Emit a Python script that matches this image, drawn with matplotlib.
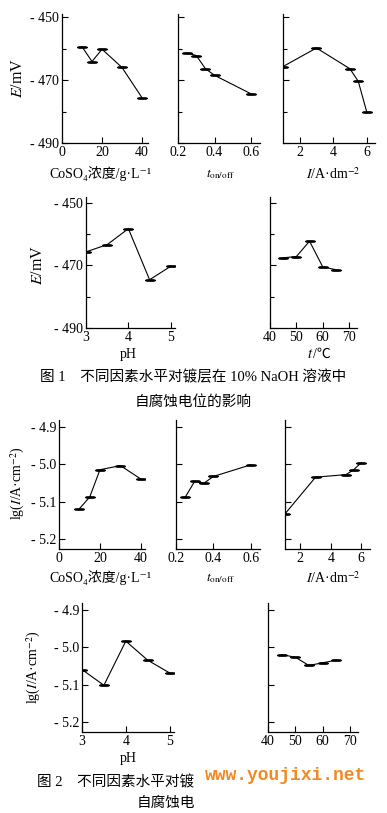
import matplotlib
matplotlib.use('Agg')
import matplotlib.pyplot as plt
from matplotlib.path import Path
from matplotlib.transforms import Affine2D
from matplotlib.ticker import FixedLocator

plt.rcParams['font.family'] = ['Liberation Serif', 'DejaVu Serif', 'Noto Sans CJK SC']
plt.rcParams['mathtext.fontset'] = 'stix'

# ---- data: Fig 1 (E / mV) ----
coso4 = [10, 15, 20, 30, 40]
e_coso4 = [-459.4, -464.1, -460.2, -466.0, -475.6]
ton = [0.25, 0.3, 0.35, 0.4, 0.6]
e_ton = [-461.4, -462.2, -466.4, -468.5, -474.4]
cur = [1, 3, 5, 5.5, 6]
e_cur = [-465.7, -459.8, -466.4, -470.4, -480.0]
ph = [3, 3.5, 4, 4.5, 5]
e_ph = [-465.7, -463.4, -458.3, -474.6, -470.3]
temp = [45, 50, 55, 60, 65]
e_temp = [-467.6, -467.2, -462.3, -470.5, -471.4]

# ---- data: Fig 2 (lg I) ----
lg_coso4 = [-5.119, -5.088, -5.015, -5.004, -5.040]
lg_ton = [-5.088, -5.046, -5.051, -5.033, -5.002]
lg_cur = [-5.133, -5.035, -5.028, -5.015, -4.996]
lg_ph = [-5.060, -5.102, -4.984, -5.035, -5.069]
lg_temp = [-5.020, -5.027, -5.049, -5.042, -5.035]

W, H = 387, 813
fig = plt.figure(figsize=(W / 100, H / 100), dpi=100)

lens = Path.unit_circle().transformed(Affine2D().scale(1, 0.22))


def px_axes(x0, x1, ytop, ybot):
    return fig.add_axes([x0 / W, 1 - ybot / H, (x1 - x0) / W, (ybot - ytop) / H])


def panel(ax, x, y, xlim, xt, ylim, yt, ymin, ylab):
    ax.plot(x, y, color='black', lw=0.8, marker=lens, ms=7.5, mfc='black', mec='black', mew=0.5)
    ax.set_xlim(*xlim)
    ax.set_ylim(*ylim)
    ax.set_xticks(xt)
    ax.set_xticklabels([f'{v:g}' for v in xt])
    ax.set_yticks(yt)
    ax.yaxis.set_minor_locator(FixedLocator(ymin))
    if ylab:
        ax.set_yticklabels(ylab)
    else:
        ax.set_yticklabels([])
    for s in ['top', 'right']:
        ax.spines[s].set_visible(False)
    for s in ['left', 'bottom']:
        ax.spines[s].set_linewidth(0.9)
    ax.tick_params(which='both', direction='in', width=0.8, labelsize=10, pad=2)
    ax.tick_params(which='major', length=4)
    ax.tick_params(which='minor', length=3)


def t_label(xc, yc):
    # italic t followed by /℃
    fig.text(xc / W, 1 - yc / H, '$t$', ha='right', va='center', fontsize=10.5)
    fig.text(xc / W, 1 - yc / H, '/℃', ha='left', va='center', fontsize=10,
             family=['Liberation Serif', 'Noto Sans CJK SC'])


e_ticks = [-490, -470, -450]
e_minor = [-480, -460]
e_labels = ['- 490', '- 470', '- 450']
lg_ticks = [-5.2, -5.1, -5.0, -4.9]
lg_labels = ['- 5.2', '- 5.1', '- 5.0', '- 4.9']

# Fig 1, top row
ax = px_axes(62, 148, 14, 143)
panel(ax, coso4, e_coso4, (0, 43), [0, 20, 40], (-490, -449), e_ticks, e_minor, e_labels)
ax = px_axes(178, 260, 14, 143)
panel(ax, ton, e_ton, (0.2, 0.648), [0.2, 0.4, 0.6], (-490, -449), e_ticks, e_minor, None)
ax = px_axes(283, 375, 14, 143)
panel(ax, cur, e_cur, (1, 6.5), [2, 4, 6], (-490, -449), e_ticks, e_minor, None)

fig.text(18 / W, 1 - 78 / H, '$E$/mV', rotation=90, ha='center', va='center', fontsize=11.5)
fig.text(100 / W, 1 - 174 / H, 'CoSO₄浓度/g·L⁻¹', ha='center', va='center', fontsize=10)
fig.text(220 / W, 1 - 174 / H, r'$t_{\rm on/off}$', ha='center', va='center', fontsize=9.5)
fig.text(333 / W, 1 - 174 / H, '$I$/A·dm$^{-2}$', ha='center', va='center', fontsize=10)

# Fig 1, bottom row
ax = px_axes(86, 175, 197, 328)
panel(ax, ph, e_ph, (3, 5.1), [3, 4, 5], (-490, -448.2), e_ticks, e_minor, e_labels)
ax = px_axes(270, 357, 197, 328)
panel(ax, temp, e_temp, (40, 73), [40, 50, 60, 70], (-490, -448.2), e_ticks, e_minor, None)

fig.text(38 / W, 1 - 265 / H, '$E$/mV', rotation=90, ha='center', va='center', fontsize=11.5)
fig.text(128 / W, 1 - 354 / H, 'pH', ha='center', va='center', fontsize=10)
t_label(313, 354)

fig.text(193 / W, 1 - 377 / H, '图 1　不同因素水平对镀层在 10% NaOH 溶液中',
         ha='center', va='center', fontsize=10.5)
fig.text(193 / W, 1 - 402 / H, '自腐蚀电位的影响', ha='center', va='center', fontsize=10.5)

# Fig 2, top row
ax = px_axes(59, 145, 420, 549)
panel(ax, coso4, lg_coso4, (0, 42), [0, 20, 40], (-5.227, -4.882), lg_ticks, [], lg_labels)
ax = px_axes(176, 260, 420, 549)
panel(ax, ton, lg_ton, (0.2, 0.65), [0.2, 0.4, 0.6], (-5.227, -4.882), lg_ticks, [], None)
ax = px_axes(285, 370, 420, 549)
panel(ax, cur, lg_cur, (1, 6.57), [2, 4, 6], (-5.227, -4.882), lg_ticks, [], None)

fig.text(18 / W, 1 - 483 / H, 'lg($I$/A·cm$^{-2}$)', rotation=90, ha='center', va='center', fontsize=10)
fig.text(100 / W, 1 - 578 / H, 'CoSO₄浓度/g·L⁻¹', ha='center', va='center', fontsize=10)
fig.text(220 / W, 1 - 578 / H, r'$t_{\rm on/off}$', ha='center', va='center', fontsize=9.5)
fig.text(333 / W, 1 - 578 / H, '$I$/A·dm$^{-2}$', ha='center', va='center', fontsize=10)

# Fig 2, bottom row
ax = px_axes(82, 174, 603, 732)
panel(ax, ph, lg_ph, (3, 5.1), [3, 4, 5], (-5.227, -4.882), lg_ticks, [], lg_labels)
ax = px_axes(268, 358, 603, 732)
panel(ax, temp, lg_temp, (40, 73), [40, 50, 60, 70], (-5.227, -4.882), lg_ticks, [], None)

fig.text(34 / W, 1 - 667 / H, 'lg($I$/A·cm$^{-2}$)', rotation=90, ha='center', va='center', fontsize=10)
fig.text(128 / W, 1 - 758 / H, 'pH', ha='center', va='center', fontsize=10)

fig.text(37 / W, 1 - 782 / H, '图 2　不同因素水平对镀', ha='left', va='center', fontsize=10.5)
fig.text(137 / W, 1 - 803 / H, '自腐蚀电', ha='left', va='center', fontsize=10.5)
fig.text(205 / W, 1 - 775 / H, 'www.youjixi.net', ha='left', va='center', fontsize=13,
         family='Liberation Mono', weight='bold', color='#f08a24')

fig.savefig('out.png', dpi=100)
